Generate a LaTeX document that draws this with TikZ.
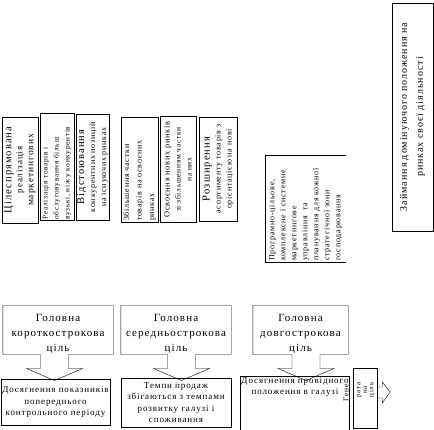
\documentclass[tikz,border=0pt]{standalone}
\usepackage{fontspec}
\setmainfont{Liberation Serif}[LetterSpace=10]
\usetikzlibrary{calc}

\newcommand{\fsz}[2]{\fontsize{#1}{#2}\selectfont}
\newcommand{\toppad}{\rule{0pt}{14.5pt}}

\begin{document}
\begin{tikzpicture}
  [x=1pt,y=-1pt,
   vbox/.style={draw,rotate=90,inner sep=1pt,align=center,font=\fsz{8}{11}},
   goal/.style={minimum height=46pt,inner sep=1pt,align=center,font=\fsz{11}{15}},
   result/.style={draw,inner sep=1pt,align=center,font=\fsz{9}{11.5}}]

  \useasboundingbox (0,0) rectangle (434,430);

  % vertical boxes
  \node (cil) [vbox,text width=104pt,minimum height=36pt] at (20,170)
    {{\fsz{10.5}{11}Цілеспрямована}\\{\fsz{9}{11}реалізація}\\{\fsz{9.5}{11}маркетингових}};
  \node (real) [vbox,text width=105pt,minimum height=34pt,align=left,font=\fsz{7.3}{11}] at (57,167)
    {Реалізація товарів і\\обслуговування більш\\вузькі, ніж у конкурентів};
  \node (vids) [vbox,text width=104pt,minimum height=33pt] at (92.5,167)
    {{\fsz{10.5}{11}Відстоювання}\\конкурентних позицій\\на існуючих ринках};
  \node (zbil) [vbox,text width=103pt,minimum height=37pt,align=left,font=\fsz{8}{12.5}] at (139.5,169.5)
    {Збільшення частки\\товарів на освоєних\\ринках};
  \node (osv) [vbox,text width=104pt,minimum height=36pt,font=\fsz{7.5}{11}] at (178,169.5)
    {{\fsz{8.3}{11}Освоєння нових ринків}\\зі збільшенням частки\\на них};
  \node (roz) [vbox,text width=102pt,minimum height=38pt] at (218,169)
    {{\fsz{10.5}{11}Розширення}\\асортименту товарів з\\орієнтацією на нові};
  \node (prog) [rotate=90,inner sep=1pt,align=left,text width=105pt,minimum height=81pt,font=\fsz{8}{11}] at (305.5,208.5)
    {Програмно-цільове,\\комплексне і системне\\маркетингове\\управління\ \ та\\планування для кожної\\стратегічної зони\\господарювання};
  \draw (prog.south east) -- (prog.north east) -- (prog.north west) -- (prog.south west);
  \node (zaim) [vbox,text width=226pt,minimum height=41pt,font=\fsz{10}{16}] at (412.5,117)
    {Займання домінуючого положення на\\ринках своєї діяльності};

  % main goals
  \node (kor) [goal,minimum width=110pt] at (58,330) {\toppad Головна\\короткострокова\\ціль};
  \node (ser) [goal,minimum width=110pt] at (176,330) {\toppad Головна\\середньострокова\\ціль};
  \node (dov) [goal,minimum width=95pt] at (300.5,330) {\toppad Головна\\довгострокова\\ціль};

  \foreach \g/\s in {kor/-3.5,ser/5.5,dov/5.5}
    \draw (\g.south west) -- (\g.north west) -- (\g.north east) -- (\g.south east)
      -- ($(\g.south)+(\s+14,0)$) -- ++(0,14) -- ++(14,0) -- ($(\g.south)+(\s,26)$)
      -- ($(\g.south)+(\s-28,14)$) -- ++(14,0) -- ++(0,-14) -- cycle;

  % results
  \node (pok) [result,minimum width=107pt,minimum height=46pt] at (55.5,402)
    {Досягнення показників\\попереднього\\контрольного періоду};
  \node (tem) [result,minimum width=110pt,minimum height=49pt] at (176,402.5)
    {Темпи продаж\\збігаються з темпами\\розвитку галузі і\\споживання};
  \node (pro) [result,minimum width=106pt,minimum height=48pt,text depth=36pt] at (295,404)
    {Досягнення провідного\\положення в галузі};

  % general goal
  \node (gen) [draw,minimum width=24pt,minimum height=60pt] at (365,398) {};
  \node (genT) [rotate=90,inner sep=0pt,align=center,font=\fsz{7}{6.5}] at (366,390)
    {рата\\на\\ціль};
  \node (genL) [rotate=90,inner sep=0pt,font=\fsz{7.5}{8}] at (346,393) {Гене};
  \draw ($(gen.east)+(0,-11)$) -- ++(5,0) -- ++(0,-5) -- ++(8,10) -- ++(-8,11) -- ++(0,-5) -- ++(-5,0);

\end{tikzpicture}
\end{document}
